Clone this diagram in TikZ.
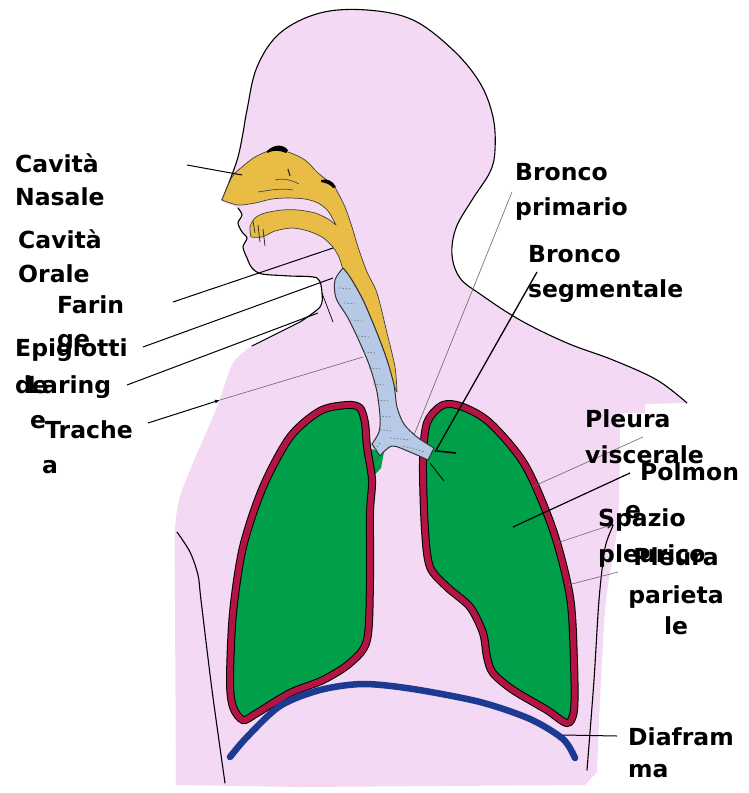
\documentclass[tikz,border=0pt]{standalone}
\usepackage{fontspec}
\setmainfont{DejaVu Sans}
\usetikzlibrary{arrows.meta}
\definecolor{skin}{RGB}{243,217,243}
\definecolor{lunggreen}{RGB}{0,160,75}
\definecolor{pleura}{RGB}{178,20,68}
\definecolor{diaph}{RGB}{28,58,146}
\definecolor{airway}{RGB}{182,202,232}
\definecolor{mucosa}{RGB}{233,188,70}
\begin{document}
\begin{tikzpicture}[x=1pt,y=-1pt,
  lbl/.style={font=\bfseries\fontsize{23.5}{30}\selectfont, inner sep=0pt, anchor=base west},
  lblc/.style={lbl, anchor=base},
  outline/.style={black, line width=1.1pt, line cap=round, line join=round},
  leader/.style={black, line width=1pt},
  faint/.style={black!60, line width=0.6pt},
  ring/.style={black!55, line width=0.7pt, dash pattern=on 1.5pt off 1.8pt},
]
\useasboundingbox (0,0) rectangle (749,793);

% ---- body silhouette ----
\fill[skin] plot[smooth, tension=0.6] coordinates {(247,110) (257,67) (280,33) (320,13) (367,10) (413,20) (453,50) (480,83) (493,117) (495,150) (490,172) (472,200) (456,228) (452,255) (460,278) (480,294) (520,320) (567,343) (613,360) (657,380) (687,403)}
  -- (645,404) -- (645,413) -- (620,413)
  -- plot[smooth] coordinates {(620,413) (618,520) (606,600) (600,700) (597,772)}
  -- (585,785) -- (300,787) -- (176,785)
  -- plot[smooth] coordinates {(176,785) (175,600) (175,530) (180,497) (193,463) (217,407) (233,363) (252,346)}
  -- (300,322)
  -- plot[smooth] coordinates {(300,322) (320,307) (322,293) (317,278)}
  -- plot[smooth] coordinates {(317,278) (290,276) (262,274) (252,268) (247,258) (243,247) (247,238) (242,232) (238,223) (242,215) (238,208) (225,203) (222,200)}
  -- plot[smooth] coordinates {(222,200) (230,180) (238,157) (243,133) (247,110)} -- cycle;

% head, neck and shoulder contour
\draw[outline] plot[smooth, tension=0.6] coordinates {(222,200) (230,180) (238,157) (243,133) (247,110) (257,67) (280,33) (320,13) (367,10) (413,20) (453,50) (480,83) (493,117) (495,150) (490,172) (472,200) (456,228) (452,255) (460,278) (480,294) (520,320) (567,343) (613,360) (657,380) (687,403)};
% mouth, chin and throat
\draw[outline] plot[smooth] coordinates {(238,208) (242,215) (238,223) (242,232) (247,238) (243,247) (247,258) (252,268) (262,274) (290,276) (317,278) (322,293) (320,307) (300,322)} -- (252,346);
\draw[black, line width=0.7pt] (322,293) -- (333,322);
% arms
\draw[outline] plot[smooth] coordinates {(177,532) (190,552) (198,575) (201,600) (212,690) (225,783)};
\draw[outline] plot[smooth] coordinates {(608,528) (613,525) (605,548) (599,600) (594,680) (587,770)};

% ---- nasal cavity, mouth and pharynx ----
\filldraw[fill=mucosa, draw=black!75, line width=0.7pt, line join=round]
  plot[smooth] coordinates {(222,200) (238,205) (255,203) (272,199) (288,198) (305,199) (318,203) (328,211) (336,225)}
  -- plot[smooth] coordinates {(336,225) (328,219) (315,213) (298,210) (282,210) (265,213) (255,218) (250,227) (251,237)}
  -- plot[smooth] coordinates {(251,237) (262,237) (275,231) (292,228) (308,231) (322,237) (332,246) (339,257) (343,270)}
  -- plot[smooth] coordinates {(343,270) (350,277) (363,300) (377,333) (387,360) (394,385) (397,392)}
  -- plot[smooth] coordinates {(397,392) (395,367) (387,333) (377,293) (367,272) (358,247) (352,227) (345,207) (338,193) (333,185) (318,173) (305,160) (288,152) (272,150) (255,157) (242,167) (232,177) (222,200)} -- cycle;
% dark ridges of the nose
\fill[black] (267,151) .. controls (274,144) and (283,144) .. (288,150) -- (286,153) .. controls (279,150) and (273,150) .. (267,153) -- cycle;
\fill[black] (321,180) .. controls (327,178) and (333,181) .. (336,187) -- (333,188) .. controls (330,184) and (326,183) .. (321,182) -- cycle;
% turbinates
\draw[black!70, line width=0.7pt] (258,192) .. controls (270,190) and (282,188) .. (293,190);
\draw[black!70, line width=0.7pt] (275,180) .. controls (283,178) and (292,180) .. (299,184);
\draw[black!80, line width=1.2pt] (288,169) -- (290,176);
% teeth
\draw[black!80, line width=0.8pt] (253,221) -- (255,233) (258,225) -- (260,242) (263,229) -- (265,246);

% ---- lungs ----
\fill[lunggreen] (367,448) -- (384,452) -- (381,468) -- (372,478) -- (365,475) -- cycle;
\fill[lunggreen] plot[smooth cycle] coordinates {(347,405) (320,411) (290,437) (263,487) (243,547) (233,613) (230,680) (233,707) (243,720) (257,713) (290,693) (323,680) (350,663) (367,640) (370,580) (370,513) (372,480) (367,447) (365,423) (360,408)};
\draw[black, line width=8pt] plot[smooth cycle] coordinates {(347,405) (320,411) (290,437) (263,487) (243,547) (233,613) (230,680) (233,707) (243,720) (257,713) (290,693) (323,680) (350,663) (367,640) (370,580) (370,513) (372,480) (367,447) (365,423) (360,408)};
\draw[pleura, line width=6pt] plot[smooth cycle] coordinates {(347,405) (320,411) (290,437) (263,487) (243,547) (233,613) (230,680) (233,707) (243,720) (257,713) (290,693) (323,680) (350,663) (367,640) (370,580) (370,513) (372,480) (367,447) (365,423) (360,408)};

\fill[lunggreen] plot[smooth cycle] coordinates {(443,405) (427,423) (423,463) (425,530) (430,567) (447,587) (470,607) (483,633) (487,657) (493,673) (513,690) (547,710) (567,723) (574,710) (574,663) (570,597) (553,530) (525,465) (490,423) (463,407)};
\draw[black, line width=8pt] plot[smooth cycle] coordinates {(443,405) (427,423) (423,463) (425,530) (430,567) (447,587) (470,607) (483,633) (487,657) (493,673) (513,690) (547,710) (567,723) (574,710) (574,663) (570,597) (553,530) (525,465) (490,423) (463,407)};
\draw[pleura, line width=6pt] plot[smooth cycle] coordinates {(443,405) (427,423) (423,463) (425,530) (430,567) (447,587) (470,607) (483,633) (487,657) (493,673) (513,690) (547,710) (567,723) (574,710) (574,663) (570,597) (553,530) (525,465) (490,423) (463,407)};

% ---- trachea and primary bronchi ----
\filldraw[fill=airway, draw=black!80, line width=1pt, line join=round]
  plot[smooth] coordinates {(343,268) (335,280) (336,298) (348,318) (360,343) (370,367) (377,392) (380,417) (379,432) (372,444)}
  -- (380,456)
  -- plot[smooth] coordinates {(380,456) (392,446) (410,452) (428,460)}
  -- (434,448)
  -- plot[smooth] coordinates {(434,448) (417,437) (404,424) (397,407) (394,385) (387,360) (377,333) (363,300) (350,277) (343,268)} -- cycle;
% cartilage rings
\foreach \px/\py in {343/288, 348/303, 355/320, 362/336, 368/352, 373/368, 377/384, 381/400, 383/416, 384/430}
  \draw[ring] (\px-4,\py) -- (\px+8,\py+1);
\draw[ring] (390,438) -- (410,440) (403,446) -- (425,452) (380,443) -- (375,450);
% segmental bronchi
\draw[black, line width=1.6pt] (437,451) -- (456,453);
\draw[black, line width=0.8pt] (430,463) -- (444,481);

% ---- diaphragm ----
\draw[diaph, line width=6.5pt, line cap=round] plot[smooth] coordinates {(230,757) (247,737) (280,706) (320,690) (363,684) (413,689) (480,702) (530,719) (563,739) (575,758)};

% ---- leader lines ----
\coordinate (nasA) at (187,165); \coordinate (nasB) at (242,175);
\coordinate (farA) at (173,302); \coordinate (farB) at (333,248);
\coordinate (epiA) at (143,347); \coordinate (epiB) at (333,278);
\coordinate (larA) at (127,385); \coordinate (larB) at (318,313);
\coordinate (traA) at (148,423); \coordinate (traM) at (220,400); \coordinate (traB) at (363,357);
\coordinate (bpA) at (512,192);  \coordinate (bpB) at (414,435);
\coordinate (bsA) at (537,272);  \coordinate (bsB) at (435,452);
\coordinate (pvA) at (643,437);  \coordinate (pvB) at (532,487);
\coordinate (poA) at (630,473);  \coordinate (poB) at (513,527);
\coordinate (spA) at (608,526);  \coordinate (spB) at (557,543);
\coordinate (ppA) at (618,572);  \coordinate (ppB) at (568,585);
\coordinate (diA) at (617,736);  \coordinate (diB) at (563,735);

\draw[leader] (nasA) -- (nasB);
\draw[leader] (farA) -- (farB);
\draw[leader] (epiA) -- (epiB);
\draw[leader] (larA) -- (larB);
\draw[leader, -{Latex[length=5pt,width=4pt]}] (traA) -- (traM);
\draw[faint] (traM) -- (traB);
\draw[faint] (bpA) -- (bpB);
\draw[black, line width=1.3pt] (bsA) -- (bsB);
\draw[faint] (pvA) -- (pvB);
\draw[leader, line width=1.2pt] (poA) -- (poB);
\draw[faint] (spA) -- (spB);
\draw[faint] (ppA) -- (ppB);
\draw[leader] (diA) -- (diB);

% ---- labels ----
\node[lbl] (nas1) at (15,172) {Cavità};
\node[lbl] (nas2) at (15,205) {Nasale};
\node[lbl] (ora1) at (18,248) {Cavità};
\node[lbl] (ora2) at (18,282) {Orale};
\node[lbl] (far1) at (57,313) {Farin};
\node[lbl] (far2) at (57,347) {ge};
\node[lbl] (epi1) at (15,356) {Epiglotti};
\node[lbl] (epi2) at (15,393) {de};
\node[lbl] (lar1) at (27,393) {Laring};
\node[lbl] (lar2) at (30,428) {e};
\node[lbl] (tra1) at (45,438) {Trache};
\node[lbl] (tra2) at (42,473) {a};

\node[lbl] (bp1) at (515,180) {Bronco};
\node[lbl] (bp2) at (515,215) {primario};
\node[lbl] (bs1) at (528,262) {Bronco};
\node[lbl] (bs2) at (528,297) {segmentale};
\node[lbl] (pv1) at (585,427) {Pleura};
\node[lbl] (pv2) at (585,463) {viscerale};
\node[lbl] (po1) at (640,480) {Polmon};
\node[lbl] (po2) at (625,518) {e};
\node[lbl] (sp1) at (598,526) {Spazio};
\node[lbl] (sp2) at (598,562) {pleurico};
\node[lblc] (pp1) at (676,565) {Pleura};
\node[lblc] (pp2) at (676,603) {parieta};
\node[lblc] (pp3) at (676,634) {le};
\node[lbl] (di1) at (628,745) {Diafram};
\node[lbl] (di2) at (628,777) {ma};
\end{tikzpicture}
\end{document}
